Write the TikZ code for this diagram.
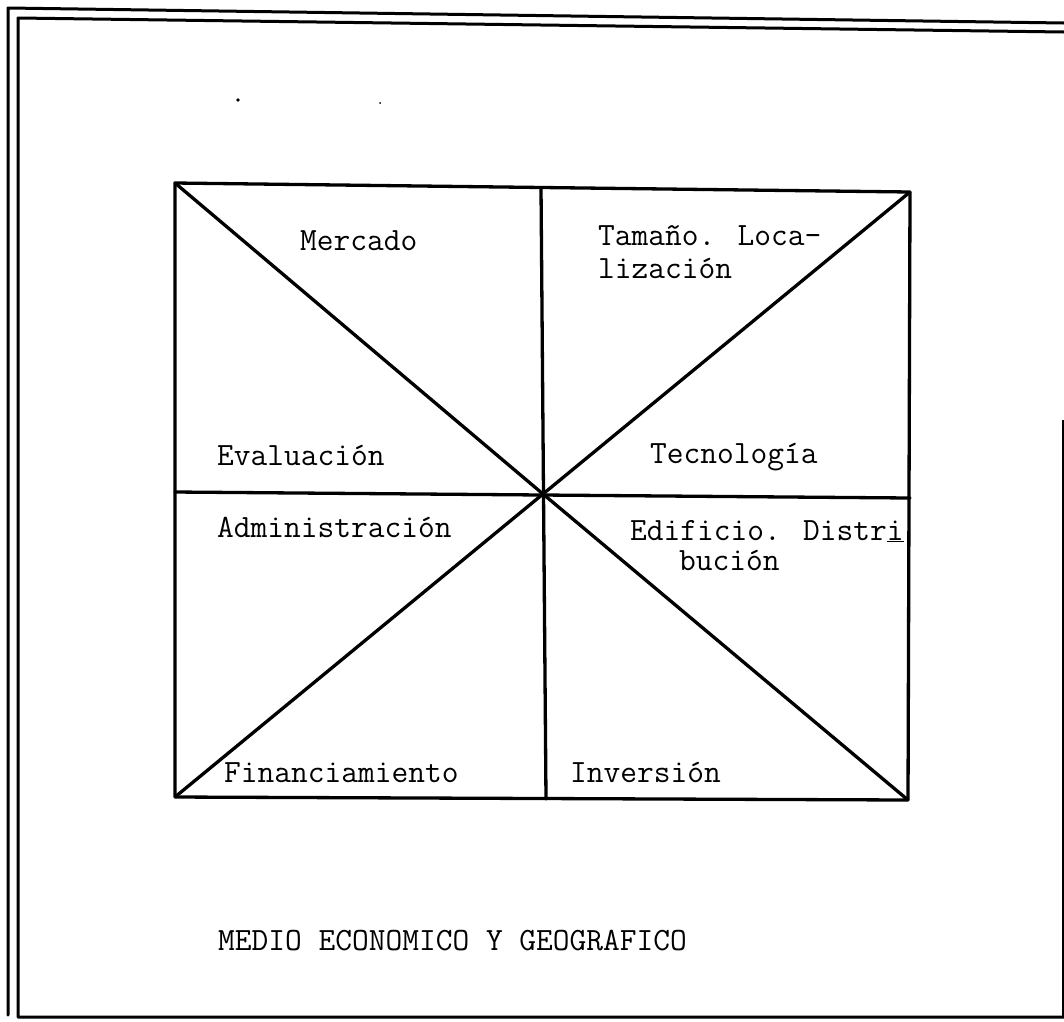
\documentclass[tikz,border=0pt]{standalone}
\begin{document}
\begin{tikzpicture}[x=1pt,y=-1pt,
  frame/.style={line width=3pt,line cap=round,line join=round},
  grid/.style={line width=3.3pt,line cap=round,line join=round},
  lbl/.style={anchor=base west,inner sep=0pt,font=\fontsize{32.5}{34}\selectfont\ttfamily}]
\useasboundingbox (0,0) rectangle (1064,1021);
% outer frame
\coordinate (o1) at (8,8);
\coordinate (o2) at (1064,23);
\coordinate (o3) at (8,1015);
\coordinate (i1) at (18,18);
\coordinate (i2) at (1064,32);
\coordinate (i3) at (18,1017);
\coordinate (i4) at (1064,1017);
\coordinate (r1) at (1063,420);
\coordinate (r2) at (1063,1017);
\draw[frame] (o2) -- (o1) -- (o3);
\draw[frame] (i2) -- (i1) -- (i3) -- (i4);
\draw[line width=1.8pt] (r1) -- (r2);
% main rectangle
\coordinate (tl) at (175,183);
\coordinate (tr) at (910,192);
\coordinate (br) at (908,800);
\coordinate (bl) at (175,797);
\coordinate (mt) at (541,188);
\coordinate (mb) at (546,799);
\coordinate (ml) at (175,492);
\coordinate (mr) at (910,498);
\coordinate (c) at (543,494);
\draw[grid] (tl) -- (tr) -- (br) -- (bl) -- cycle;
\draw[grid] (mt) -- (mb);
\draw[grid] (ml) -- (mr);
\draw[grid] (tl) -- (c) -- (br);
\draw[grid] (tr) -- (c) -- (bl);
% specks
\fill (238,100) circle (1.8pt);
\fill (380,103) circle (1pt);
% labels
\node[lbl] (merc) at (300,250) {Mercado};
\node[lbl] (tam1) at (598,245) {Tamaño. Loca-};
\node[lbl] (tam2) at (598,278) {lización};
\node[lbl] (eval) at (217,465) {Evaluación};
\node[lbl] (tecn) at (650,463) {Tecnología};
\node[lbl] (admi) at (217,537) {Administración};
\node[lbl] (edi1) at (630,540) {Edificio. Distr\underline{i}};
\node[lbl] (edi2) at (679,570) {bución};
\node[lbl] (fina) at (224,782) {Financiamiento};
\node[lbl] (inve) at (570,782) {Inversión};
\node[lbl] (medi) at (218,950) {MEDIO ECONOMICO Y GEOGRAFICO};
\end{tikzpicture}
\end{document}
